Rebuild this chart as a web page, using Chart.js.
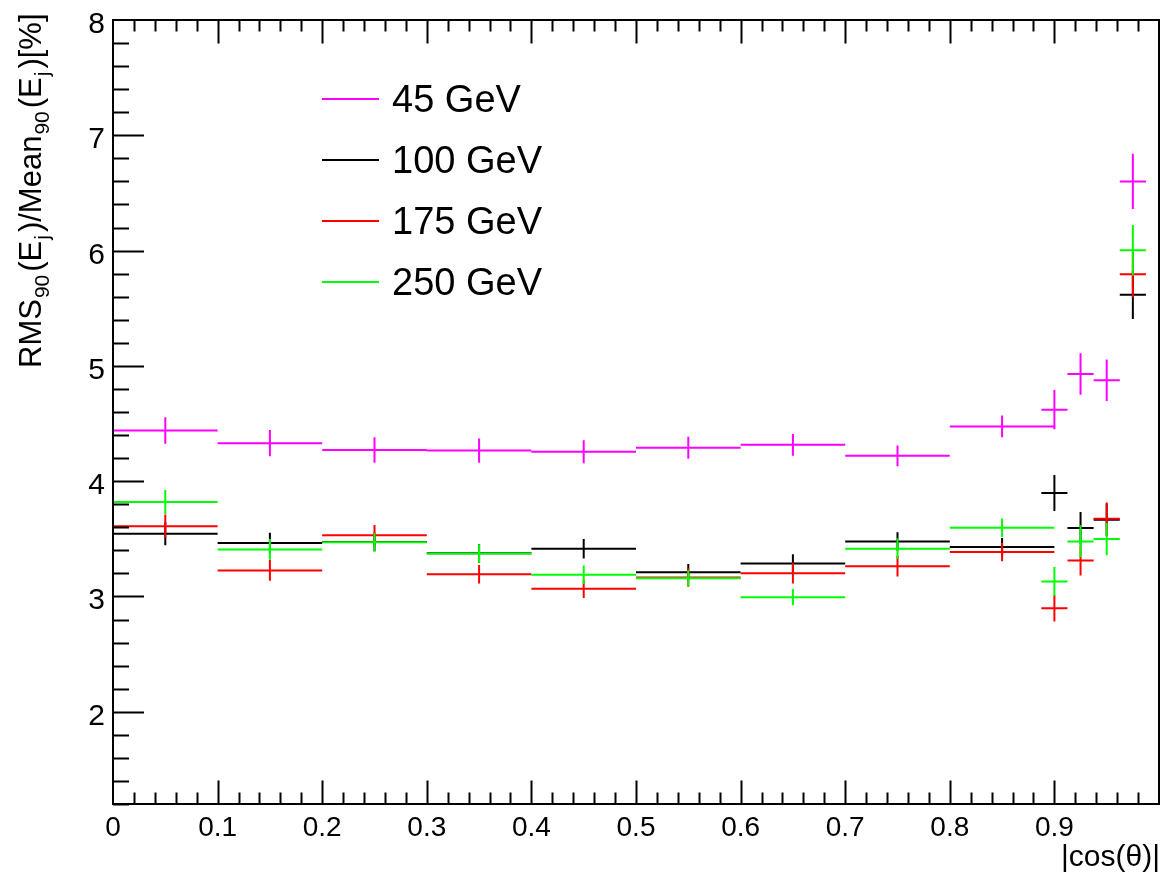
<!DOCTYPE html>
<html>
<head>
<meta charset="utf-8">
<script src="https://cdn.jsdelivr.net/npm/chart.js@4.4.0/dist/chart.umd.min.js"></script>
<style>
  html, body { margin: 0; padding: 0; background: #fff; }
  #plot { display: block; }
</style>
</head>
<body>
<canvas id="plot" width="1162" height="876"></canvas>
<script>
// bins in |cos(theta)|
var binCenters = [0.05, 0.15, 0.25, 0.35, 0.45, 0.55, 0.65, 0.75, 0.85, 0.9, 0.925, 0.95, 0.975];
var binHalfWidths = [0.05, 0.05, 0.05, 0.05, 0.05, 0.05, 0.05, 0.05, 0.05, 0.0125, 0.0125, 0.0125, 0.0125];

// RMS90/Mean90 [%] per energy
var res45 = [4.44, 4.33, 4.27, 4.265, 4.255, 4.29, 4.315, 4.22, 4.475, 4.62, 4.93, 4.875, 6.60];
var err45 = [0.115, 0.113, 0.11, 0.105, 0.10, 0.095, 0.095, 0.09, 0.095, 0.17, 0.18, 0.18, 0.24];
var res100 = [3.545, 3.463, 3.472, 3.375, 3.414, 3.211, 3.287, 3.477, 3.428, 3.897, 3.593, 3.666, 5.616];
var err100 = [0.10, 0.09, 0.08, 0.08, 0.085, 0.07, 0.08, 0.08, 0.08, 0.156, 0.14, 0.14, 0.21];
var res175 = [3.61, 3.226, 3.53, 3.192, 3.067, 3.165, 3.202, 3.263, 3.385, 2.898, 3.312, 3.675, 5.795];
var err175 = [0.10, 0.09, 0.09, 0.08, 0.08, 0.08, 0.09, 0.09, 0.08, 0.115, 0.13, 0.14, 0.20];
var res250 = [3.819, 3.408, 3.47, 3.373, 3.188, 3.158, 2.994, 3.414, 3.596, 3.13, 3.477, 3.498, 6.003];
var err250 = [0.104, 0.09, 0.08, 0.08, 0.08, 0.07, 0.07, 0.09, 0.08, 0.126, 0.14, 0.14, 0.22];

var seriesLabels = ['45 GeV', '100 GeV', '175 GeV', '250 GeV'];
var seriesColors = ['#ff00ff', '#000000', '#ff0000', '#00ff00'];

var xTickLabels = ['0', '0.1', '0.2', '0.3', '0.4', '0.5', '0.6', '0.7', '0.8', '0.9'];
var yTickLabels = ['2', '3', '4', '5', '6', '7', '8'];

var FONT = '"Liberation Sans", Arial, Helvetica, sans-serif';

// one line dataset per series: a horizontal bin bar and a vertical error bar per point, split by gaps
function crossPoints(values, errors) {
    var pts = [];
    for (var i = 0; i < binCenters.length; i++) {
        var xc = binCenters[i], hw = binHalfWidths[i], v = values[i], e = errors[i];
        pts.push({x: xc - hw, y: v}, {x: xc + hw, y: v}, {x: xc, y: null});
        pts.push({x: xc, y: v - e}, {x: xc, y: v + e}, {x: xc, y: null});
    }
    return pts;
}

var allValues = [res45, res100, res175, res250];
var allErrors = [err45, err100, err175, err250];
var datasets = [];
for (var s = 0; s < 4; s++) {
    datasets.push({
        label: seriesLabels[s],
        data: crossPoints(allValues[s], allErrors[s]),
        borderColor: seriesColors[s],
        borderWidth: 2,
        pointRadius: 0,
        spanGaps: false,
        order: 3 - s
    });
}

var rootStyle = {
    id: 'rootStyle',
    afterDraw: function (chart) {
        var ctx = chart.ctx;
        var a = chart.chartArea;
        var xs = chart.scales.x, ys = chart.scales.y;
        ctx.save();
        ctx.strokeStyle = '#000';
        ctx.fillStyle = '#000';
        ctx.lineWidth = 2;
        ctx.strokeRect(a.left, a.top, a.right - a.left, a.bottom - a.top);

        // y ticks every 0.2, pointing inwards (left side only)
        ctx.beginPath();
        for (var k = 6; k < 40; k++) {
            var py = Math.round(ys.getPixelForValue(k / 5)) + 0.5;
            var len = (k % 5 === 0) ? 31 : 16;
            ctx.moveTo(a.left, py);
            ctx.lineTo(a.left + len, py);
        }
        // x ticks every 0.02, bottom and top
        for (var j = 1; j < 50; j++) {
            var px = Math.round(xs.getPixelForValue(j / 50)) + 0.5;
            var l2 = (j % 5 === 0) ? 23.5 : 11.5;
            ctx.moveTo(px, a.bottom);
            ctx.lineTo(px, a.bottom - l2);
            ctx.moveTo(px, a.top);
            ctx.lineTo(px, a.top + l2);
        }
        ctx.stroke();

        // tick labels
        ctx.textBaseline = 'alphabetic';
        ctx.font = '30px ' + FONT;
        ctx.textAlign = 'right';
        yTickLabels.forEach(function (t) {
            ctx.fillText(t, a.left - 8, ys.getPixelForValue(parseFloat(t)) + 13);
        });
        ctx.font = '28px ' + FONT;
        ctx.textAlign = 'center';
        xTickLabels.forEach(function (t) {
            ctx.fillText(t, xs.getPixelForValue(parseFloat(t)), a.bottom + 32);
        });

        // x title
        ctx.font = '30px ' + FONT;
        ctx.textAlign = 'right';
        ctx.fillText('|cos(\u03b8)|', a.right + 1, 866);

        // y title with subscripts, rotated
        var parts = [['RMS', 0], ['90', 1], ['(E', 0], ['j', 1], [')/Mean', 0], ['90', 1], ['(E', 0], ['j', 1], [')[%]', 0]];
        ctx.save();
        ctx.translate(41, 368);
        ctx.rotate(-Math.PI / 2);
        ctx.textAlign = 'left';
        var pos = 0;
        parts.forEach(function (p) {
            if (p[1]) {
                ctx.font = '21px ' + FONT;
                ctx.fillText(p[0], pos + 1, 8);
                pos += ctx.measureText(p[0]).width + 4;
            } else {
                ctx.font = '31px ' + FONT;
                ctx.fillText(p[0], pos, 0);
                pos += ctx.measureText(p[0]).width;
            }
        });
        ctx.restore();

        // legend
        ctx.font = '38px ' + FONT;
        ctx.textAlign = 'left';
        for (var s = 0; s < seriesLabels.length; s++) {
            var ly = 99 + 61 * s;
            ctx.strokeStyle = seriesColors[s];
            ctx.lineWidth = 2;
            ctx.beginPath();
            ctx.moveTo(322, ly);
            ctx.lineTo(379, ly);
            ctx.stroke();
            ctx.fillText(seriesLabels[s], 392, ly + 13);
        }
        ctx.restore();
    }
};

new Chart(document.getElementById('plot').getContext('2d'), {
    type: 'line',
    data: { datasets: datasets },
    options: {
        responsive: false,
        animation: false,
        devicePixelRatio: 1,
        layout: { padding: { left: 113, right: 3, top: 20, bottom: 72 } },
        plugins: { legend: { display: false }, tooltip: { enabled: false } },
        elements: { line: { tension: 0, borderCapStyle: 'butt' } },
        scales: {
            x: { type: 'linear', min: 0, max: 1, display: false },
            y: { type: 'linear', min: 1.2, max: 8, display: false }
        }
    },
    plugins: [rootStyle]
});
</script>
</body>
</html>
